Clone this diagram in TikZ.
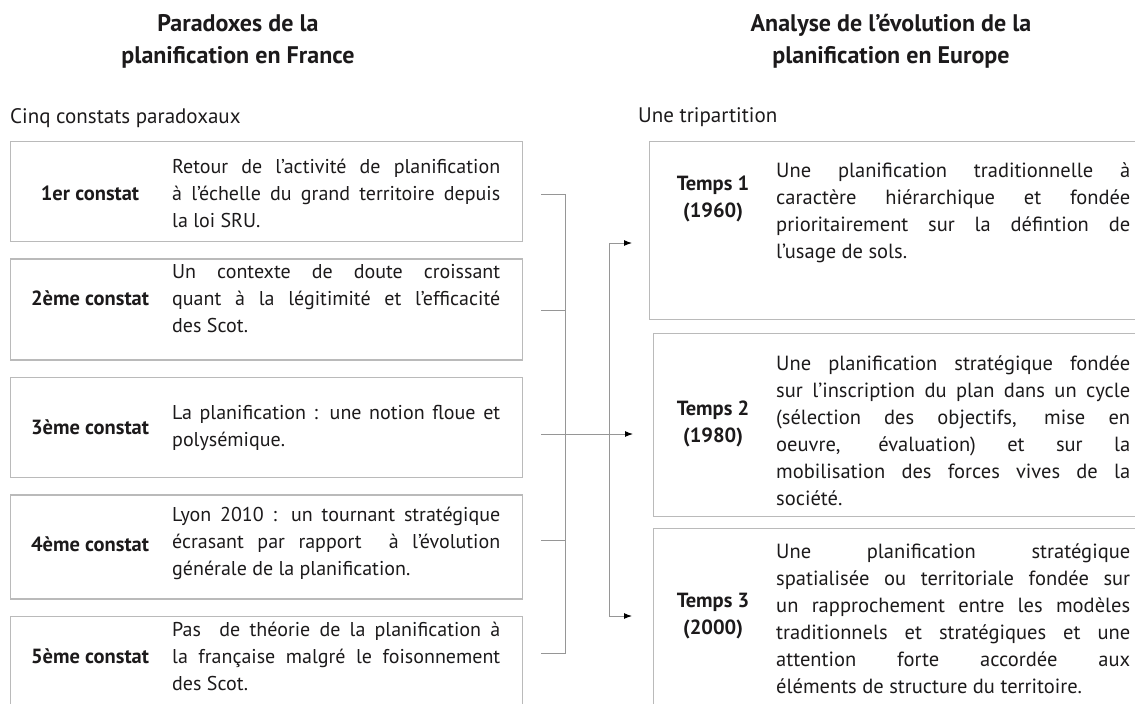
\documentclass[tikz,border=0pt]{standalone}
\usepackage{fontspec}
\setmainfont{PT Sans}
\usepackage{xcolor}
\usetikzlibrary{arrows.meta,positioning}
\definecolor{framegray}{HTML}{BABABA}
\definecolor{wiregray}{HTML}{969696}
\definecolor{ink}{HTML}{1C1A1B}

\begin{document}
\begin{tikzpicture}[
    x=1pt, y=-1pt,
    font=\fontsize{20}{27}\selectfont,
    >={Latex[length=8pt,width=6pt,color=black]},
    constat/.style={
		rectangle,
		draw=framegray,
		line width=1.4pt,
		inner sep=0pt,
		minimum width=512pt,
		minimum height=100pt
	},
    temps/.style={
		rectangle,
		draw=framegray,
		line width=1.4pt,
		inner sep=0pt
	},
	tag/.style={
		font=\fontsize{20.5}{27}\selectfont\bfseries,
		text=ink,
		align=center
	},
	body/.style={
		text=ink,
		align=justify,
		anchor=west,
		inner sep=0pt
	},
	heading/.style={
		font=\fontsize{21}{27}\selectfont,
		text=ink,
		anchor=west,
		inner sep=0pt
	},
	title/.style={
		font=\fontsize{24}{32}\selectfont\bfseries,
		text=ink,
		align=center
	},
	wire/.style={
		draw=wiregray,
		line width=1pt
	}
  ]
  \useasboundingbox (0,0) rectangle (1135,704);

    % titles and headings
  \node [title] (ttl) at (238,41) {Paradoxes de la\\planification en France};
  \node [title] (ttr) at (891,41) {Analyse de l’évolution de la\\planification en Europe};
  \node [heading] (hl) at (10,118) {Cinq constats paradoxaux};
  \node [heading] (hr) at (638,117) {Une tripartition};

    % left column : the five constats
  \node [constat, anchor=north west] (c1) at (10,141) {};
  \node [constat, below=16pt of c1, minimum height=101pt] (c2) {};
  \node [constat, below=16pt of c2] (c3) {};
  \node [constat, below=16pt of c3, minimum height=104pt] (c4) {};
  \node [constat, below=16pt of c4] (c5) {};

  \node [body, text width=328pt, xshift=162pt, yshift=-2pt] (c1t) at (c1.west)
 {Retour de l’activité de planification\linebreak à l’échelle du grand territoire depuis\linebreak la loi SRU.};
  \node [body, text width=328pt, xshift=162pt, yshift=11pt] (c2t) at (c2.west)
 {Un contexte de doute croissant\linebreak quant à la légitimité et l’efficacité\linebreak des Scot.};
  \node [body, text width=328pt, xshift=162pt] (c3t) at (c3.west)
 {La planification : une notion floue et\linebreak polysémique.};
  \node [body, text width=328pt, xshift=162pt, yshift=3pt] (c4t) at (c4.west)
 {Lyon 2010 : un tournant stratégique\linebreak écrasant par rapport~ à l’évolution\linebreak générale de la planification.};
  \node [body, text width=328pt, xshift=162pt, yshift=10pt] (c5t) at (c5.west)
 {Pas~ de théorie de la planification à\linebreak la française malgré le foisonnement\linebreak des Scot.};

  \node [tag, xshift=-82pt] (c1l) at (c1t.west) {1er constat};
  \node [tag, xshift=-82pt] (c2l) at (c2t.west) {2ème constat};
  \node [tag, xshift=-82pt] (c3l) at (c3t.west) {3ème constat};
  \node [tag, xshift=-82pt] (c4l) at (c4t.west) {4ème constat};
  \node [tag, xshift=-82pt] (c5l) at (c5t.west) {5ème constat};

    % right column : the three periods
  \node [temps, anchor=north west, minimum width=490pt, minimum height=178pt] (t1) at (649,141) {};
  \node [temps, anchor=north west, minimum width=486pt, minimum height=183pt] (t2) at (653,333) {};
  \node [temps, anchor=north west, minimum width=486pt, minimum height=185pt] (t3) at (653,528) {};

  \node [body, font=\fontsize{20.5}{27}\selectfont, text width=354pt, xshift=127pt, yshift=18pt] (t1t) at (t1.west)
 {Une planification traditionnelle à\linebreak caractère hiérarchique et fondée\linebreak prioritairement sur la défintion de\linebreak l’usage de sols.};
  \node [body, font=\fontsize{20.5}{27}\selectfont, text width=354pt, xshift=123pt, yshift=-6pt] (t2t) at (t2.west)
 {Une planification stratégique fondée\linebreak sur l’inscription du plan dans un cycle\linebreak (sélection des objectifs, mise en\linebreak oeuvre, évaluation) et sur la\linebreak mobilisation des forces vives de la\linebreak société.};
  \node [body, font=\fontsize{20.5}{27}\selectfont, text width=354pt, xshift=123pt, yshift=2pt] (t3t) at (t3.west)
 {Une planification stratégique\linebreak spatialisée ou territoriale fondée sur\linebreak un rapprochement entre les modèles\linebreak traditionnels et stratégiques et une\linebreak attention forte accordée aux\linebreak éléments de structure du territoire.};

  \node [tag, xshift=-63pt, yshift=14pt] (t1l) at (t1t.west) {Temps 1\\(1960)};
  \node [tag, xshift=-63pt, yshift=7pt] (t2l) at (t2t.west) {Temps 2\\(1980)};
  \node [tag, xshift=-63pt, yshift=3pt] (t3l) at (t3t.west) {Temps 3\\(2000)};

    % connectors
  \coordinate (s1) at (541,194);
  \coordinate (s2) at (541,310);
  \coordinate (s3) at (541,434);
  \coordinate (s4) at (541,540);
  \coordinate (s5) at (541,653);
  \coordinate (k1) at (565,194);
  \coordinate (k5) at (565,653);
  \coordinate (r1) at (609,243);
  \coordinate (r3) at (609,616);

 \draw [wire] (s1) -- (k1) -- (k5) -- (s5);
 \draw [wire] (s2) -- (s2 -| k1);
 \draw [wire] (s4) -- (s4 -| k1);
 \draw [wire, ->, shorten >=20pt] (s3) -- (t2.west |- s3);
 \draw [wire, <->, shorten <=17pt, shorten >=21pt] (t1.west |- r1) -- (r1) -- (r3) -- (t3.west |- r3);

\end{tikzpicture}
\end{document}
